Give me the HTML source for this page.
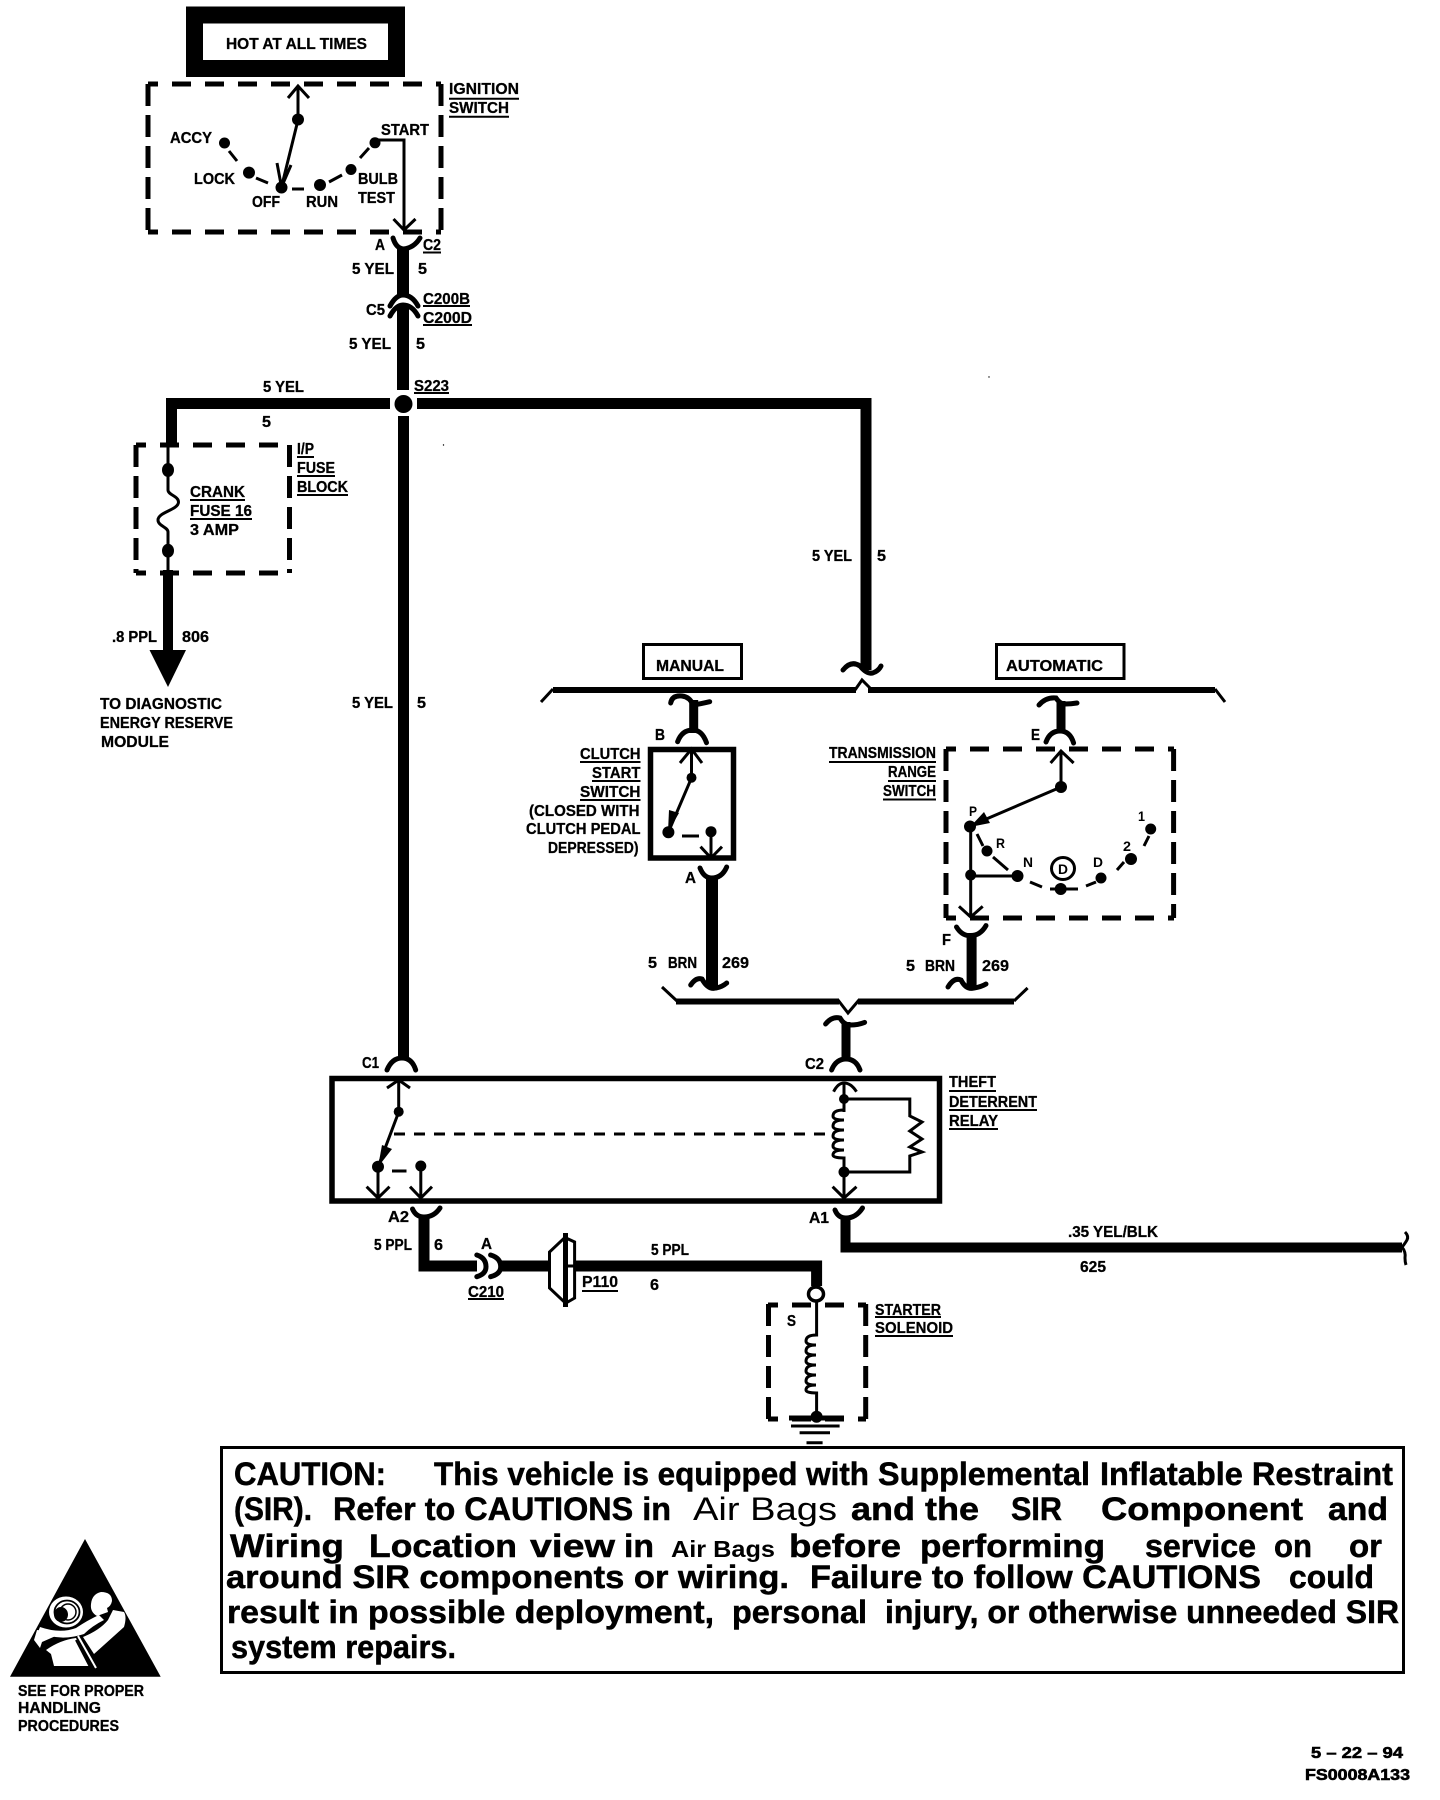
<!DOCTYPE html>
<html><head><meta charset="utf-8"><title>Starter wiring diagram</title>
<style>
html,body{margin:0;padding:0;background:#fff}
svg{display:block}
text{font-family:"Liberation Sans",sans-serif;font-weight:700;fill:#000}
.l{font-size:16px;stroke:#000;stroke-width:.3;transform:translateY(-1px)}
.c{font-size:32px;stroke:#000;stroke-width:.5}
.n{font-weight:400;stroke-width:0}
.w{fill:none;stroke:#000;stroke-linecap:butt;stroke-linejoin:miter}
.dh{fill:none;stroke:#000;stroke-width:5;stroke-dasharray:19 14;stroke-dashoffset:9}
.dv{fill:none;stroke:#000;stroke-width:5;stroke-dasharray:22 9}
.t{fill:none;stroke:#000;stroke-width:3}
.a{fill:none;stroke:#000;stroke-width:5;stroke-linecap:round}
.u{fill:none;stroke:#000;stroke-width:2}
.d{fill:none;stroke:#000;stroke-width:3;stroke-dasharray:11 9}
</style></head><body>
<svg xmlns="http://www.w3.org/2000/svg" width="1440" height="1800" viewBox="0 0 1440 1800">
<rect width="1440" height="1800" fill="#fff"/>

<!-- Hot box -->
<rect x="194.500" y="15" width="202" height="53.500" fill="#fff" stroke="#000" stroke-width="17"/>
<text class="l" x="226" y="50" textLength="141" lengthAdjust="spacingAndGlyphs">HOT AT ALL TIMES</text>

<!-- Ignition switch -->
<path class="dh" d="M148 84H441M148 232H441"/>
<path class="dv" d="M148 84V232M441 84V232"/>
<path class="t" d="M288 98L298 86L309 98M298 86V120L281.500 187M277 163L281.500 187L291 165"/>
<circle cx="298" cy="119.500" r="6"/><circle cx="281.500" cy="187.500" r="6"/>
<circle cx="224.500" cy="143" r="5.500"/><circle cx="249" cy="172.600" r="6"/>
<circle cx="320" cy="185" r="6"/><circle cx="351" cy="169.500" r="5.500"/><circle cx="375" cy="142.800" r="5.500"/>
<path class="t" d="M229 151L237 161M256 178L268 183M292 189H304M329 182L342 175M360 158L369 148"/>
<path class="t" d="M375 140H404V230M393.500 219L404 230L415.500 219"/>
<text class="l" x="170" y="144" textLength="42" lengthAdjust="spacingAndGlyphs">ACCY</text>
<text class="l" x="194" y="185" textLength="41" lengthAdjust="spacingAndGlyphs">LOCK</text>
<text class="l" x="252" y="208" textLength="28" lengthAdjust="spacingAndGlyphs">OFF</text>
<text class="l" x="306" y="208" textLength="32" lengthAdjust="spacingAndGlyphs">RUN</text>
<text class="l" x="358" y="185" textLength="40" lengthAdjust="spacingAndGlyphs">BULB</text>
<text class="l" x="358" y="204" textLength="37" lengthAdjust="spacingAndGlyphs">TEST</text>
<text class="l" x="381" y="136" textLength="48" lengthAdjust="spacingAndGlyphs">START</text>
<text class="l" x="449" y="95" textLength="70" lengthAdjust="spacingAndGlyphs">IGNITION</text>
<text class="l" x="449" y="114" textLength="60" lengthAdjust="spacingAndGlyphs">SWITCH</text>
<path class="u" d="M449 98.700H519M449 116.700H509"/>

<!-- C2 / C5 wires -->
<path class="a" d="M393 238Q396 248 403 249Q414 248 420 238"/>
<path class="w" stroke-width="12" d="M403 247V296"/>
<text class="l" x="375" y="251" textLength="10" lengthAdjust="spacingAndGlyphs">A</text>
<text class="l" x="423" y="251" textLength="18" lengthAdjust="spacingAndGlyphs">C2</text>
<path class="u" d="M423 252.500H441"/>
<text class="l" x="352" y="275" textLength="42" lengthAdjust="spacingAndGlyphs">5 YEL</text>
<text class="l" x="418" y="275" textLength="9" lengthAdjust="spacingAndGlyphs">5</text>
<path class="a" d="M390 306Q396 295 403 295Q412 295 418 306"/>
<path class="a" d="M390 316Q396 305 403 305Q412 305 418 316"/>
<path class="w" stroke-width="12" d="M403 306V390"/>
<text class="l" x="366" y="316" textLength="19" lengthAdjust="spacingAndGlyphs">C5</text>
<text class="l" x="423" y="305" textLength="47" lengthAdjust="spacingAndGlyphs">C200B</text>
<text class="l" x="423" y="324" textLength="49" lengthAdjust="spacingAndGlyphs">C200D</text>
<path class="u" d="M423 306H470M423 325H472"/>
<text class="l" x="349" y="350" textLength="42" lengthAdjust="spacingAndGlyphs">5 YEL</text>
<text class="l" x="416" y="350" textLength="9" lengthAdjust="spacingAndGlyphs">5</text>
<text class="l" x="414" y="392" textLength="35" lengthAdjust="spacingAndGlyphs">S223</text>
<path class="u" d="M414 393H449"/>
<text class="l" x="263" y="393" textLength="41" lengthAdjust="spacingAndGlyphs">5 YEL</text>
<text class="l" x="262" y="428" textLength="9" lengthAdjust="spacingAndGlyphs">5</text>

<!-- S223 splice -->
<path class="w" stroke-width="11" d="M390 403.500H171.500V444"/>
<path class="w" stroke-width="11" d="M417 403.500H866V670"/>
<circle cx="403.500" cy="404" r="9"/>
<path class="w" stroke-width="11" d="M403.500 416V1060"/>

<!-- Fuse block -->
<path class="dh" d="M136 445H290M136 573H290"/>
<path class="dv" d="M136 445V573M289.500 445V573"/>
<path class="t" d="M168 443V490C168 495 178.500 496 178.500 502C178.500 510 158 512 158 520C158 526 168 527 168 532V574"/>
<ellipse cx="168" cy="470" rx="6" ry="7"/><ellipse cx="168" cy="550.700" rx="6" ry="7"/>
<path class="w" stroke-width="10" d="M168 570V652"/>
<path d="M149.500 650H186L168 687Z"/>
<text class="l" x="190" y="498" textLength="55" lengthAdjust="spacingAndGlyphs">CRANK</text>
<text class="l" x="190" y="517" textLength="62" lengthAdjust="spacingAndGlyphs">FUSE 16</text>
<text class="l" x="190" y="536" textLength="49" lengthAdjust="spacingAndGlyphs">3 AMP</text>
<path class="u" d="M190 500H245M190 519H252"/>
<text class="l" x="297" y="455" textLength="17" lengthAdjust="spacingAndGlyphs">I/P</text>
<text class="l" x="297" y="474" textLength="38" lengthAdjust="spacingAndGlyphs">FUSE</text>
<text class="l" x="297" y="493" textLength="51" lengthAdjust="spacingAndGlyphs">BLOCK</text>
<path class="u" d="M297 457H314M297 476H335M297 495H348"/>
<text class="l" x="112" y="643" textLength="45" lengthAdjust="spacingAndGlyphs">.8 PPL</text>
<text class="l" x="182" y="643" textLength="27" lengthAdjust="spacingAndGlyphs">806</text>
<text class="l" x="100" y="710" textLength="122" lengthAdjust="spacingAndGlyphs">TO DIAGNOSTIC</text>
<text class="l" x="100" y="729" textLength="133" lengthAdjust="spacingAndGlyphs">ENERGY RESERVE</text>
<text class="l" x="101" y="748" textLength="68" lengthAdjust="spacingAndGlyphs">MODULE</text>
<text class="l" x="352" y="709" textLength="41" lengthAdjust="spacingAndGlyphs">5 YEL</text>
<text class="l" x="417" y="709" textLength="9" lengthAdjust="spacingAndGlyphs">5</text>
<text class="l" x="812" y="562" textLength="40" lengthAdjust="spacingAndGlyphs">5 YEL</text>
<text class="l" x="877" y="562" textLength="9" lengthAdjust="spacingAndGlyphs">5</text>

<!-- Manual / automatic bus -->
<rect x="643.500" y="644.500" width="98" height="34" fill="#fff" stroke="#000" stroke-width="3"/>
<text class="l" x="656" y="672" textLength="68" lengthAdjust="spacingAndGlyphs">MANUAL</text>
<rect x="996.500" y="644.500" width="127.500" height="34" fill="#fff" stroke="#000" stroke-width="3"/>
<text class="l" x="1006" y="672" textLength="97" lengthAdjust="spacingAndGlyphs">AUTOMATIC</text>
<path class="w" stroke-width="6" d="M553 690H856"/>
<path class="w" stroke-width="6" d="M868 690H1215"/>
<path class="t" d="M541 702L553 689M855 690L862 680L872 690M1215 689L1225 702"/>
<path class="a" d="M843 670Q851 660 860 666Q868 676 875 672Q879 670 881 666"/>

<!-- Clutch start switch -->
<path class="a" d="M670.700 703Q672 695 682 696Q690 697 693 705Q700 704 709.700 701.700"/>
<path class="w" stroke-width="9" d="M693.700 700V733"/>
<path class="a" d="M677.600 741.700Q682 730 692.800 730Q702 730 706.500 742.700"/>
<text class="l" x="655" y="741" textLength="10" lengthAdjust="spacingAndGlyphs">B</text>
<rect x="650.500" y="749.500" width="83" height="108.500" fill="none" stroke="#000" stroke-width="5.500"/>
<path class="t" d="M680 763L691.500 749L702 763M691.500 749V778L668.400 832"/>
<path d="M668 832L669 810L679 813Z"/>
<circle cx="691.500" cy="777.700" r="5"/><circle cx="668.400" cy="832.300" r="6"/><circle cx="711" cy="831.700" r="5.500"/>
<path class="t" d="M682 836H699M711 832V858M700.500 846.700L711 858L722 846.700"/>
<text class="l" x="580" y="760" textLength="60.500" lengthAdjust="spacingAndGlyphs">CLUTCH</text>
<text class="l" x="592" y="779" textLength="48.500" lengthAdjust="spacingAndGlyphs">START</text>
<text class="l" x="580" y="798" textLength="60.500" lengthAdjust="spacingAndGlyphs">SWITCH</text>
<text class="l" x="529" y="817" textLength="110.500" lengthAdjust="spacingAndGlyphs">(CLOSED WITH</text>
<text class="l" x="526" y="835" textLength="114.500" lengthAdjust="spacingAndGlyphs">CLUTCH PEDAL</text>
<text class="l" x="548" y="854" textLength="90.500" lengthAdjust="spacingAndGlyphs">DEPRESSED)</text>
<path class="u" d="M580 762H640.500M592 781H640.500M580 800H640.500"/>
<path class="a" d="M700 868Q704 878 711.700 878Q722 878 726.700 867"/>
<path class="w" stroke-width="12" d="M712 876V986"/>
<path class="a" d="M690.700 985Q696 977 702 979Q708 990 716 988Q722 987 726.700 983"/>
<text class="l" x="685" y="884" textLength="11" lengthAdjust="spacingAndGlyphs">A</text>
<text class="l" x="648" y="969" textLength="9" lengthAdjust="spacingAndGlyphs">5</text>
<text class="l" x="668" y="969" textLength="29" lengthAdjust="spacingAndGlyphs">BRN</text>
<text class="l" x="722" y="969" textLength="27" lengthAdjust="spacingAndGlyphs">269</text>

<!-- Transmission range switch -->
<path class="a" d="M1039 705Q1046 697 1056 698Q1060 704 1065 704Q1071 704 1077 703"/>
<path class="w" stroke-width="9" d="M1061 701V733"/>
<path class="a" d="M1046 742Q1050 731 1060 731Q1070 731 1073.600 743"/>
<text class="l" x="1031" y="741" textLength="9" lengthAdjust="spacingAndGlyphs">E</text>
<path class="dh" d="M946 749H1174M946 918H1174"/>
<path class="dv" d="M946 749V918M1173.600 749V918"/>
<path class="t" d="M1050.600 763L1061 751L1073.600 763M1061 751V787L970 826"/>
<path d="M970 827L984 812L990 823Z"/>
<circle cx="1061" cy="787" r="6"/><circle cx="970" cy="826.500" r="6"/>
<circle cx="987" cy="851" r="5.500"/><circle cx="1017.500" cy="876" r="6"/><circle cx="1060.700" cy="889" r="6"/>
<circle cx="1101" cy="878" r="5.500"/><circle cx="1131" cy="859" r="6"/><circle cx="1150.700" cy="829" r="5.500"/>
<circle cx="970.700" cy="875" r="5.500"/>
<path class="t" d="M977 834L983 846M993 857L1008 870M1030 882L1042 887M1050 889H1078M1086 886L1096 882M1117 870L1124 862M1144 846L1149 836"/>
<path class="t" d="M970.700 826V917M959 906.400L970.700 917L982.700 906.400M970.700 876H1017"/>
<ellipse cx="1063" cy="868.500" rx="11.500" ry="11" fill="none" stroke="#000" stroke-width="3"/>
<text x="1058" y="874" font-size="14" textLength="10" lengthAdjust="spacingAndGlyphs">D</text>
<text x="969" y="816" font-size="14" textLength="8" lengthAdjust="spacingAndGlyphs">P</text>
<text x="996" y="848" font-size="14" textLength="9" lengthAdjust="spacingAndGlyphs">R</text>
<text x="1023" y="867" font-size="14" textLength="10" lengthAdjust="spacingAndGlyphs">N</text>
<text x="1093" y="867" font-size="14" textLength="10" lengthAdjust="spacingAndGlyphs">D</text>
<text x="1123" y="851" font-size="14" textLength="8" lengthAdjust="spacingAndGlyphs">2</text>
<text x="1138" y="821" font-size="14" textLength="7" lengthAdjust="spacingAndGlyphs">1</text>
<text class="l" x="829" y="759" textLength="107" lengthAdjust="spacingAndGlyphs">TRANSMISSION</text>
<text class="l" x="888" y="778" textLength="48" lengthAdjust="spacingAndGlyphs">RANGE</text>
<text class="l" x="883" y="797" textLength="53" lengthAdjust="spacingAndGlyphs">SWITCH</text>
<path class="u" d="M829 762H936M888 781H936M883 799.500H936"/>
<path class="a" d="M956.500 927Q962 936 970 935.500Q980 936 986 925.600"/>
<path class="w" stroke-width="10" d="M971.600 933V986"/>
<path class="a" d="M948 987Q954 977 961 980Q966 990 974 988Q981 987 986 984"/>
<text class="l" x="942" y="946" textLength="9" lengthAdjust="spacingAndGlyphs">F</text>
<text class="l" x="906" y="972" textLength="9" lengthAdjust="spacingAndGlyphs">5</text>
<text class="l" x="925" y="972" textLength="30" lengthAdjust="spacingAndGlyphs">BRN</text>
<text class="l" x="982" y="972" textLength="27" lengthAdjust="spacingAndGlyphs">269</text>

<!-- Lower bus -->
<path class="w" stroke-width="6" d="M676 1001.500H839M858 1001.500H1014"/>
<path class="t" d="M662 987L677 1001M838 1000L848 1013L859 1000M1014 1001L1027.600 988"/>
<path class="a" d="M825.600 1024Q832 1016 840 1018Q844 1025 850 1025Q858 1025 864.600 1022.400"/>
<path class="w" stroke-width="9" d="M846 1022V1060"/>
<path class="a" d="M831.600 1070Q836 1059 846 1059Q856 1059 860 1070"/>
<text class="l" x="805" y="1070" textLength="19" lengthAdjust="spacingAndGlyphs">C2</text>

<!-- Theft deterrent relay -->
<path class="a" d="M387 1070Q392 1058 402 1058Q412 1058 415.700 1070"/>
<text class="l" x="362" y="1069" textLength="17" lengthAdjust="spacingAndGlyphs">C1</text>
<rect x="332" y="1078.500" width="607.500" height="122.500" fill="none" stroke="#000" stroke-width="5.500"/>
<path class="t" d="M387 1088L398.700 1080L410 1088M398.700 1080V1112L378 1167"/>
<path d="M378 1167L382 1145L392 1149Z"/>
<circle cx="398.700" cy="1111.700" r="5"/><circle cx="378" cy="1166.700" r="6"/><circle cx="420.800" cy="1166" r="5.500"/>
<path class="t" d="M378 1167V1198M366.600 1186.700L378 1198L389.500 1186.700M420.800 1166V1198M410 1186.700L420.800 1198L432 1186.700M392 1171H406.500"/>
<path class="d" d="M394 1134H834"/>
<path class="t" d="M833.600 1091.700Q838 1083 844 1083Q851 1083 856.500 1091.700M844 1083V1112"/>
<circle cx="844" cy="1099" r="5"/>
<path class="t" d="M844 1099H909.800V1116L922 1122L909.800 1131L922 1139L909.800 1147L922 1152L909.800 1156V1172H844"/>
<path class="t" d="M844 1110Q833 1110 833 1116Q833 1120 844 1120Q833 1120 833 1126Q833 1130 844 1130Q833 1130 833 1136Q833 1140 844 1140Q833 1140 833 1146Q833 1150 844 1150Q833 1150 833 1155Q833 1158 844 1158V1172"/>
<circle cx="844" cy="1172" r="5.500"/>
<path class="t" d="M844 1172V1198M832.600 1186.700L844 1198L856.500 1186.700"/>
<text class="l" x="949" y="1088" textLength="47" lengthAdjust="spacingAndGlyphs">THEFT</text>
<text class="l" x="949" y="1108" textLength="88" lengthAdjust="spacingAndGlyphs">DETERRENT</text>
<text class="l" x="949" y="1127" textLength="49" lengthAdjust="spacingAndGlyphs">RELAY</text>
<path class="u" d="M949 1091H996M949 1110H1037M949 1129H998"/>

<!-- A2 / P110 / Starter -->
<path class="a" d="M412.500 1209Q416 1217 424 1217Q434 1217 440 1208"/>
<path class="w" stroke-width="11" d="M424 1215V1266H477M500 1266H548"/>
<text class="l" x="388" y="1223" textLength="21" lengthAdjust="spacingAndGlyphs">A2</text>
<text class="l" x="374" y="1251" textLength="38" lengthAdjust="spacingAndGlyphs">5 PPL</text>
<text class="l" x="434" y="1251" textLength="9" lengthAdjust="spacingAndGlyphs">6</text>
<text class="l" x="481" y="1250" textLength="11" lengthAdjust="spacingAndGlyphs">A</text>
<path class="a" d="M476.800 1255Q486 1258 486 1266.700Q486 1274 476.800 1276.700"/>
<path class="a" d="M490.600 1255Q500.700 1258 500.700 1266.700Q500.700 1274 490.600 1276.700"/>
<text class="l" x="468" y="1298" textLength="36" lengthAdjust="spacingAndGlyphs">C210</text>
<path class="u" d="M468 1299H504"/>
<path class="t" d="M564 1238.300L549.500 1252V1288L564 1301.700"/>
<path class="w" stroke-width="5" d="M565.500 1233V1307"/>
<path class="t" d="M566 1238L574.600 1242V1298L566 1303"/>
<path class="w" stroke-width="3" d="M565 1266H574"/>
<path class="w" stroke-width="11" d="M574.600 1266H816.600V1286"/>
<text class="l" x="582" y="1288" textLength="36" lengthAdjust="spacingAndGlyphs">P110</text>
<path class="u" d="M582 1291H618"/>
<text class="l" x="651" y="1256" textLength="38" lengthAdjust="spacingAndGlyphs">5 PPL</text>
<text class="l" x="650" y="1291" textLength="9" lengthAdjust="spacingAndGlyphs">6</text>
<ellipse cx="816" cy="1294" rx="7.500" ry="7" fill="#fff" stroke="#000" stroke-width="3.500"/>
<path class="dh" d="M768 1305H866M768 1419H866" stroke-dashoffset="0"/>
<path class="dv" d="M768.500 1304V1419M865.700 1304V1419"/>
<path class="t" d="M816.600 1301V1335Q806 1335 806 1341Q806 1345 816 1345Q806 1345 806 1351Q806 1355 816 1355Q806 1355 806 1361Q806 1365 816 1365Q806 1365 806 1371Q806 1375 816 1375Q806 1375 806 1381Q806 1385 816 1385Q806 1385 806 1390Q806 1393 816.600 1393V1417"/>
<circle cx="816.600" cy="1416.700" r="6"/>
<path class="w" stroke-width="5" d="M789 1418H844"/>
<path class="w" stroke-width="3" d="M791 1426H839.600M799.600 1432.700H830"/>
<path class="w" stroke-width="3" d="M806.500 1442.700H822.600"/>
<text class="l" x="787" y="1327" textLength="9" lengthAdjust="spacingAndGlyphs">S</text>
<text class="l" x="875" y="1316" textLength="66" lengthAdjust="spacingAndGlyphs">STARTER</text>
<text class="l" x="875" y="1334" textLength="78" lengthAdjust="spacingAndGlyphs">SOLENOID</text>
<path class="u" d="M875 1317H941M875 1336H953"/>

<!-- A1 wire -->
<path class="a" d="M835 1210Q838 1218 846 1218Q856 1218 862.500 1208"/>
<path class="w" stroke-width="10" d="M845.500 1216V1247.500H1402"/>
<path class="t" stroke-width="4" d="M1405 1232Q1409 1236 1407 1240Q1404 1245 1402 1247Q1406 1252 1405 1258Q1405 1262 1406 1265"/>
<text class="l" x="809" y="1224" textLength="20" lengthAdjust="spacingAndGlyphs">A1</text>
<text class="l" x="1068" y="1238" textLength="90" lengthAdjust="spacingAndGlyphs">.35 YEL/BLK</text>
<text class="l" x="1080" y="1273" textLength="26" lengthAdjust="spacingAndGlyphs">625</text>

<!-- Caution -->
<rect x="221.500" y="1447.500" width="1182" height="225" fill="none" stroke="#000" stroke-width="3"/>
<text class="c" x="234" y="1485" textLength="152" lengthAdjust="spacingAndGlyphs">CAUTION:</text>
<text class="c" x="434" y="1485" textLength="435" lengthAdjust="spacingAndGlyphs">This vehicle is equipped with</text>
<text class="c" x="878" y="1485" textLength="212" lengthAdjust="spacingAndGlyphs">Supplemental</text>
<text class="c" x="1100" y="1485" textLength="293" lengthAdjust="spacingAndGlyphs">Inflatable Restraint</text>
<text class="c" x="234" y="1520" textLength="78" lengthAdjust="spacingAndGlyphs">(SIR).</text>
<text class="c" x="333" y="1520" textLength="338" lengthAdjust="spacingAndGlyphs">Refer to CAUTIONS in</text>
<text class="c n" x="693" y="1520" textLength="144" lengthAdjust="spacingAndGlyphs">Air Bags</text>
<text class="c" x="851" y="1520" textLength="128" lengthAdjust="spacingAndGlyphs">and the</text>
<text class="c" x="1011" y="1520" textLength="51" lengthAdjust="spacingAndGlyphs">SIR</text>
<text class="c" x="1101" y="1520" textLength="202" lengthAdjust="spacingAndGlyphs">Component</text>
<text class="c" x="1328" y="1520" textLength="60" lengthAdjust="spacingAndGlyphs">and</text>
<text class="c" x="230" y="1557" textLength="114" lengthAdjust="spacingAndGlyphs">Wiring</text>
<text class="c" x="369" y="1557" textLength="148" lengthAdjust="spacingAndGlyphs">Location</text>
<text class="c" x="530" y="1557" textLength="85" lengthAdjust="spacingAndGlyphs">view</text>
<text class="c" x="624" y="1557" textLength="30" lengthAdjust="spacingAndGlyphs">in</text>
<text x="671" y="1557" font-size="23" textLength="104" lengthAdjust="spacingAndGlyphs">Air Bags</text>
<text class="c" x="789" y="1557" textLength="112" lengthAdjust="spacingAndGlyphs">before</text>
<text class="c" x="920" y="1557" textLength="185" lengthAdjust="spacingAndGlyphs">performing</text>
<text class="c" x="1145" y="1557" textLength="111" lengthAdjust="spacingAndGlyphs">service</text>
<text class="c" x="1274" y="1557" textLength="38" lengthAdjust="spacingAndGlyphs">on</text>
<text class="c" x="1349" y="1557" textLength="33" lengthAdjust="spacingAndGlyphs">or</text>
<text class="c" x="226" y="1588" textLength="563" lengthAdjust="spacingAndGlyphs">around SIR components or wiring.</text>
<text class="c" x="810" y="1588" textLength="451" lengthAdjust="spacingAndGlyphs">Failure to follow CAUTIONS</text>
<text class="c" x="1289" y="1588" textLength="85" lengthAdjust="spacingAndGlyphs">could</text>
<text class="c" x="227" y="1623" textLength="487" lengthAdjust="spacingAndGlyphs">result in possible deployment,</text>
<text class="c" x="732" y="1623" textLength="135" lengthAdjust="spacingAndGlyphs">personal</text>
<text class="c" x="885" y="1623" textLength="514" lengthAdjust="spacingAndGlyphs">injury, or otherwise unneeded SIR</text>
<text class="c" x="231" y="1658" textLength="225" lengthAdjust="spacingAndGlyphs">system repairs.</text>

<!-- Warning triangle -->
<path d="M85 1539L160.700 1676.700H10Z"/>
<!-- band under wheel -->
<path fill="#fff" d="M40 1627Q60 1634 76 1628Q88 1620 99 1615L104 1620Q92 1626 84 1634Q66 1640 50 1636L38 1632Z"/>
<!-- wheel ring -->
<ellipse cx="66" cy="1612" rx="17" ry="15.500" fill="#fff"/>
<ellipse cx="67" cy="1612" rx="12.500" ry="11.500" fill="none" stroke="#000" stroke-width="1.800"/>
<ellipse cx="68" cy="1612" rx="8" ry="8" fill="none" stroke="#000" stroke-width="1.500"/>
<ellipse cx="61" cy="1614.500" rx="7" ry="7.500"/>
<!-- head -->
<path fill="#fff" d="M91 1604Q92 1594 101 1592Q112 1592 112 1601Q111 1606 107 1608L108 1612L97 1616Q90 1612 91 1604Z"/>
<!-- seat back -->
<path fill="#fff" d="M113 1610L124 1612Q127 1617 124 1627L94 1654L83 1637Q100 1630 108 1620Z"/>
<!-- arm -->
<path fill="#fff" d="M37 1630L52 1632L58 1635L42 1642L40 1648L34 1640Z"/>
<!-- leg / hip -->
<path fill="#fff" d="M46 1650Q60 1640 76 1638L90 1666H54L51 1654Z"/>
<!-- seat rail -->
<path fill="none" stroke="#fff" stroke-width="2" d="M78 1636L96 1668"/>
<path fill="none" stroke="#000" stroke-width="2" d="M76 1640L90 1667"/>
<text x="18" y="1696" font-size="15.500" stroke="#000" stroke-width=".3" textLength="126" lengthAdjust="spacingAndGlyphs">SEE FOR PROPER</text>
<text x="18" y="1713" font-size="15.500" stroke="#000" stroke-width=".3" textLength="83" lengthAdjust="spacingAndGlyphs">HANDLING</text>
<text x="18" y="1731" font-size="15.500" stroke="#000" stroke-width=".3" textLength="101" lengthAdjust="spacingAndGlyphs">PROCEDURES</text>

<!-- Date code -->
<text class="l" x="1311" y="1759" textLength="92" lengthAdjust="spacingAndGlyphs" style="stroke-width:.6">5 – 22 – 94</text>
<text class="l" x="1305" y="1781" textLength="105" lengthAdjust="spacingAndGlyphs" style="stroke-width:.6">FS0008A133</text>
<circle cx="443.500" cy="445" r=".7"/><circle cx="989" cy="377" r=".7"/>
</svg>
</body></html>
